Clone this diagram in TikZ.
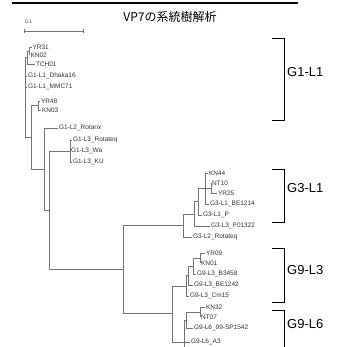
\documentclass[tikz,border=0pt]{standalone}
\usepackage{fontspec}
\setmainfont{Liberation Sans}
\newfontfamily\cjkfont{Noto Sans CJK JP}
\usetikzlibrary{positioning}

\begin{document}
\begin{tikzpicture}[x=1pt,y=-1pt,
    branch/.style={black!55, line width=0.5pt},
    leaf/.style={anchor=west, inner sep=0.8pt, text=black!80, font=\fontsize{6.5}{7.5}\selectfont},
    bracket/.style={line width=0.9pt},
    clade/.style={anchor=west, inner sep=0pt, font=\fontsize{13}{15}\selectfont}]
  \useasboundingbox (0,0) rectangle (344,347);
  \clip (0,0) rectangle (344,347);

  % rule left over from the page above
  \draw[line width=1.2pt] (12,3) -- (298,3);

  % title
  \node[font=\cjkfont\fontsize{12}{14}\selectfont] (title) at (170,17) {VP7の系統樹解析};

  % scale bar
  \node[leaf, font=\fontsize{5}{6}\selectfont] (sblab) at (24,22) {0.1};
  \coordinate (sbl) at (24,31);
  \coordinate (sbr) at (83,31);
  \draw[branch] (sbl) -- (sbr);
  \draw[branch] ([yshift=2pt]sbl) -- ([yshift=-2pt]sbl);
  \draw[branch] ([yshift=2pt]sbr) -- ([yshift=-2pt]sbr);

  % G1 part of the tree
  \coordinate (root) at (25,57);
  \coordinate (nTop) at (27.5,57);
  \coordinate (nTopA) at (29.5,51);
  \node[leaf] (yr31) at (31.5,47) {YR31};
  \node[leaf] (kn02) at (29.5,55) {KN02};
  \node[leaf] (tch01) at (35,64) {TCH01};
  \node[leaf] (dhaka) at (27,76) {G1-L1\_Dhaka16};
  \node[leaf] (mmc71) at (27,87) {G1-L1\_MMC71};
  \coordinate (nYK) at (38,105);
  \node[leaf] (yr48) at (40,101) {YR48};
  \node[leaf] (kn03) at (41,110) {KN03};
  \coordinate (nLa) at (31,137);
  \coordinate (nLb) at (44,169);
  \node[leaf] (rotarix) at (58,128) {G1-L2\_Rotarix};
  \coordinate (nLc) at (49,210);
  \coordinate (nWa) at (70,151);
  \node[leaf] (rtqA) at (72,140) {G1-L3\_Rotateq};
  \node[leaf] (wa) at (70,151) {G1-L3\_Wa};
  \node[leaf] (ku) at (72,162) {G1-L3\_KU};

  % G3 and G9 part of the tree
  \coordinate (nG) at (123,269);
  \coordinate (nG3) at (183,225);
  \coordinate (nG3c) at (194,214);
  \coordinate (nG3b) at (198,201);
  \coordinate (nG3a) at (205,188);
  \coordinate (nNY) at (211,188);
  \node[leaf] (kn44) at (208,173) {KN44};
  \node[leaf] (nt10) at (211,183) {NT10};
  \node[leaf] (yr25) at (217,193) {YR25};
  \node[leaf] (be1214) at (209,204) {G3-L1\_BE1214};
  \node[leaf] (g3p) at (202,215) {G3-L1\_P};
  \node[leaf] (p01322) at (210,226) {G3-L3\_P01322};
  \node[leaf] (rtqB) at (192,237) {G3-L2\_Rotateq};

  \coordinate (nG9) at (172,313);
  \coordinate (nG9d) at (186,286);
  \coordinate (nG9c) at (188,275);
  \coordinate (nG9b) at (193,266);
  \coordinate (nG9a) at (200,258);
  \node[leaf] (yr09) at (205,253) {YR09};
  \node[leaf] (kn01) at (200,263) {KN01};
  \node[leaf] (b3458) at (196,274) {G9-L3\_B3458};
  \node[leaf] (be1242) at (193,285) {G9-L3\_BE1242};
  \node[leaf] (cm15) at (189,296) {G9-L3\_Cm15};
  \coordinate (nL6c) at (184,342);
  \coordinate (nL6b) at (186,320);
  \coordinate (nL6a) at (200,312);
  \node[leaf] (kn32) at (205,307) {KN32};
  \node[leaf] (nt07) at (200,317) {NT07};
  \node[leaf] (sp1542) at (193,328) {G9-L6\_99-SP1542};
  \node[leaf] (a3) at (190,342) {G9-L6\_A3};
  \coordinate (more) at (190,364);

  \foreach \p/\c in {root/nTop, nTop/nTopA, nTopA/yr31.west, nTopA/kn02.west,
      nTop/tch01.west, root/dhaka.west, root/mmc71.west, root/nLa,
      nLa/nYK, nYK/yr48.west, nYK/kn03.west, nLa/nLb,
      nLb/rotarix.west, nLb/nLc, nLc/nWa, nWa/rtqA.west, nWa/wa.west, nWa/ku.west,
      nLc/nG, nG/nG3, nG3/nG3c, nG3/rtqB.west, nG3c/nG3b, nG3c/p01322.west,
      nG3b/nG3a, nG3b/g3p.west, nG3a/kn44.west, nG3a/nNY, nG3a/be1214.west,
      nNY/nt10.west, nNY/yr25.west,
      nG/nG9, nG9/nG9d, nG9/nL6c, nG9d/nG9c, nG9d/cm15.west, nG9c/nG9b,
      nG9c/be1242.west, nG9b/nG9a, nG9b/b3458.west, nG9a/yr09.west, nG9a/kn01.west,
      nL6c/nL6b, nL6c/a3.west, nL6c/more, nL6b/nL6a, nL6b/sp1542.west,
      nL6a/kn32.west, nL6a/nt07.west}
    \draw[branch] (\p) |- (\c);

  % lineage brackets
  \coordinate (g1a) at (272,38);
  \coordinate (g1b) at (272,120);
  \draw[bracket] (g1a) -- ++(12,0) |- (g1b);
  \node[clade] (g1lab) at (287,72) {G1-L1};

  \coordinate (g3a) at (272,169);
  \coordinate (g3b) at (272,222);
  \draw[bracket] (g3a) -- ++(12,0) |- (g3b);
  \node[clade] (g3lab) at (287,188) {G3-L1};

  \coordinate (g9a) at (272,248);
  \coordinate (g9b) at (272,302);
  \draw[bracket] (g9a) -- ++(12,0) |- (g9b);
  \node[clade] (g9lab) at (287,270) {G9-L3};

  \coordinate (g6a) at (272,310);
  \coordinate (g6b) at (272,380);
  \draw[bracket] (g6a) -- ++(12,0) |- (g6b);
  \node[clade] (g6lab) at (287,324) {G9-L6};
\end{tikzpicture}
\end{document}
